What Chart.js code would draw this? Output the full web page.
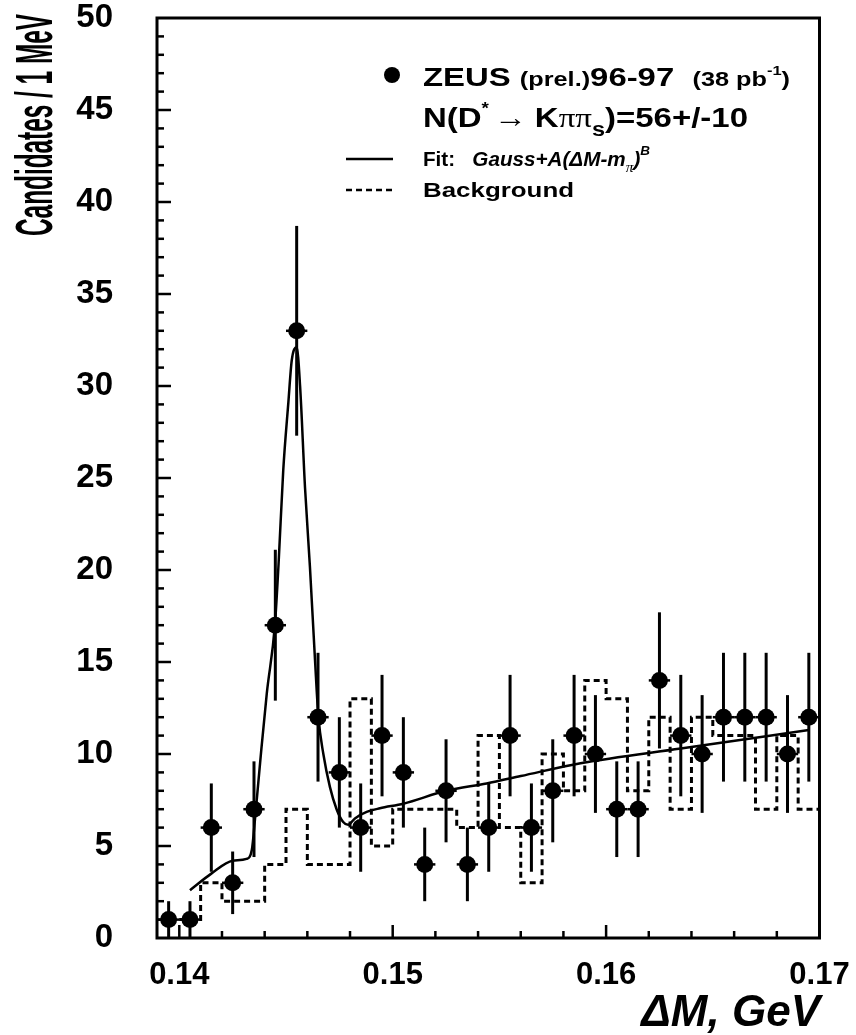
<!DOCTYPE html>
<html lang="en">
<head>
<meta charset="UTF-8">
<title>D* signal, ZEUS 96-97</title>
<style>
  html, body { margin: 0; padding: 0; background: #fff; }
  #wrap { width: 856px; height: 1035px; }
</style>
</head>
<body>
<div id="wrap"><canvas id="chart" width="856" height="1035"></canvas></div>

<script src="https://cdn.jsdelivr.net/npm/chart.js"></script>
<script>
    // data points: bin centres (GeV), candidates per 1 MeV, error bars
    const binCenters = [0.1395, 0.1405, 0.1415, 0.1425, 0.1435, 0.1445, 0.1455, 0.1465, 0.1475, 0.1485,
                        0.1495, 0.1505, 0.1515, 0.1525, 0.1535, 0.1545, 0.1555, 0.1565, 0.1575, 0.1585,
                        0.1595, 0.1605, 0.1615, 0.1625, 0.1635, 0.1645, 0.1655, 0.1665, 0.1675, 0.1685, 0.1695];
    const counts = [1, 1, 6, 3, 7, 17, 33, 12, 9, 6,
                    11, 9, 4, 8, 4, 6, 11, 6, 8, 11,
                    10, 7, 7, 14, 11, 10, 12, 12, 12, 10, 12];
    const errors = [1, 1, 2.4, 1.7, 2.6, 4.1, 5.7, 3.5, 3, 2.4,
                    3.3, 3, 2, 2.8, 2, 2.4, 3.3, 2.4, 2.8, 3.3,
                    3.2, 2.6, 2.6, 3.7, 3.3, 3.2, 3.5, 3.5, 3.5, 3.2, 3.5];
    const halfBin = 0.0005;

    // background (dashed histogram): bin left edges and contents
    const bkgEdges  = [0.140, 0.141, 0.142, 0.144, 0.145, 0.146, 0.148, 0.149, 0.150, 0.153,
                       0.154, 0.155, 0.156, 0.157, 0.158, 0.159, 0.160, 0.161, 0.162, 0.163,
                       0.164, 0.165, 0.167, 0.168, 0.169, 0.170];
    const bkgValues = [1, 3, 2, 4, 7, 4, 13, 5, 7, 6,
                       11, 6, 3, 10, 8, 14, 13, 8, 12, 7,
                       12, 11, 7, 11, 7, 7];

    // fit curve
    const fitX = [0.14050, 0.14150, 0.14250, 0.14315, 0.14340, 0.14355, 0.14380, 0.14410, 0.14448, 0.14465,
                  0.14487, 0.14511, 0.14527, 0.14550, 0.14566, 0.14589, 0.14612, 0.14636, 0.14652, 0.14675,
                  0.14706, 0.14737, 0.14768, 0.14791, 0.14823, 0.14878, 0.14940, 0.15050, 0.15250, 0.15440,
                  0.15600, 0.15880, 0.16350, 0.16950];
    const fitY = [2.6, 3.5, 4.2, 4.3, 4.8, 6.5, 9.7, 13.3, 17.0, 20.3,
                  25.4, 29.1, 31.4, 32.1, 30.0, 24.5, 20.2, 15.1, 12.0, 10.0,
                  8.2, 7.0, 6.3, 6.15, 6.5, 6.85, 7.05, 7.3, 8.0, 8.4,
                  8.8, 9.5, 10.3, 11.3];

    // axes
    const xMin = 0.138955, xMax = 0.170;
    const xLabels = [0.14, 0.15, 0.16, 0.17];
    const yLabels = [0, 5, 10, 15, 20, 25, 30, 35, 40, 45, 50];

    const FONT = "'Liberation Sans', Arial, Helvetica, sans-serif";
    const SYM = "'Liberation Serif', 'DejaVu Serif', serif";

    // draw a run of text pieces, squeezed/stretched to end at xEnd
    function textRun(ctx, x, y, xEnd, parts) {
        let w = 0;
        for (const p of parts) {
            ctx.font = p.f;
            w += ctx.measureText(p.t).width + (p.gap || 0);
        }
        ctx.save();
        ctx.translate(x, y);
        ctx.scale((xEnd - x) / w, 1);
        let cx = 0;
        for (const p of parts) {
            ctx.font = p.f;
            ctx.fillText(p.t, cx, p.dy || 0);
            cx += ctx.measureText(p.t).width + (p.gap || 0);
        }
        ctx.restore();
    }

    // frame, inward ticks, error bars, titles and legend
    const decor = {
        id: 'decor',
        afterDatasetsDraw(chart) {
            const ctx = chart.ctx, xs = chart.scales.x, ys = chart.scales.y;
            ctx.save();
            ctx.strokeStyle = '#000';
            for (let i = 0; i < binCenters.length; i++) {
                const px = xs.getPixelForValue(binCenters[i]);
                const py = ys.getPixelForValue(counts[i]);
                ctx.lineWidth = 3;
                ctx.beginPath();
                ctx.moveTo(px, ys.getPixelForValue(Math.max(0, counts[i] - errors[i])));
                ctx.lineTo(px, ys.getPixelForValue(counts[i] + errors[i]));
                ctx.stroke();
                ctx.lineWidth = 2.5;
                ctx.beginPath();
                ctx.moveTo(xs.getPixelForValue(binCenters[i] - halfBin), py);
                ctx.lineTo(xs.getPixelForValue(binCenters[i] + halfBin), py);
                ctx.stroke();
            }
            ctx.restore();
        },
        afterDraw(chart) {
            const ctx = chart.ctx, a = chart.chartArea;
            const xs = chart.scales.x, ys = chart.scales.y;
            ctx.save();
            ctx.strokeStyle = '#000';
            ctx.fillStyle = '#000';

            // frame
            ctx.lineWidth = 3;
            ctx.strokeRect(a.left, a.top, a.right - a.left, a.bottom - a.top);

            // y ticks every 1, long every 5
            ctx.lineWidth = 2.5;
            for (let v = 1; v < 50; v++) {
                const py = ys.getPixelForValue(v);
                const len = v % 5 === 0 ? 14 : 7;
                ctx.beginPath();
                ctx.moveTo(a.left, py);
                ctx.lineTo(a.left + len, py);
                ctx.stroke();
            }
            // x ticks every 2 MeV, long every 10
            for (let k = 70; k <= 84; k++) {
                const v = k * 0.002;
                if (v < xMin || v >= xMax - 1e-6) continue;
                const px = xs.getPixelForValue(v);
                const len = k % 5 === 0 ? 13 : 7;
                ctx.beginPath();
                ctx.moveTo(px, a.bottom);
                ctx.lineTo(px, a.bottom - len);
                ctx.stroke();
            }

            // y title (narrow bold)
            ctx.save();
            ctx.translate(52, 125);
            ctx.rotate(-Math.PI / 2);
            ctx.font = 'bold 52px ' + FONT;
            const t = 'Candidates / 1 MeV';
            const w = ctx.measureText(t).width;
            ctx.scale(222 / w, 1);
            ctx.textAlign = 'center';
            ctx.fillText(t, 0, 0);
            ctx.restore();

            // x title
            ctx.font = 'italic bold 44px ' + FONT;
            ctx.textAlign = 'right';
            ctx.fillText('\u0394M, GeV', 820, 1026);

            // legend
            ctx.textAlign = 'left';
            ctx.beginPath();
            ctx.arc(392, 75, 8, 0, Math.PI * 2);
            ctx.fill();
            textRun(ctx, 423, 86, 790, [
                { t: 'ZEUS ', f: 'bold 26px ' + FONT },
                { t: '(prel.)', f: 'bold 20px ' + FONT },
                { t: '96-97  ', f: 'bold 26px ' + FONT },
                { t: '(38 pb', f: 'bold 20px ' + FONT },
                { t: '-1', f: 'bold 13px ' + FONT, dy: -11 },
                { t: ')', f: 'bold 20px ' + FONT }
            ]);
            textRun(ctx, 423, 127, 748, [
                { t: 'N(D', f: 'bold 28px ' + FONT },
                { t: '*', f: 'bold 16px ' + FONT, dy: -13, gap: 4 },
                { t: '\u2192 ', f: '28px ' + SYM },
                { t: 'K', f: 'bold 28px ' + FONT },
                { t: '\u03c0\u03c0', f: '28px ' + SYM },
                { t: 's', f: 'bold 20px ' + FONT, dy: 9 },
                { t: ')=56+/-10', f: 'bold 28px ' + FONT }
            ]);
            textRun(ctx, 423, 166, 650, [
                { t: 'Fit:   ', f: 'bold 20px ' + FONT },
                { t: 'Gauss+A(\u0394M-m', f: 'italic bold 20px ' + FONT },
                { t: '\u03c0', f: 'italic 15px ' + SYM, dy: 6 },
                { t: ')', f: 'italic bold 20px ' + FONT },
                { t: 'B', f: 'italic bold 13px ' + FONT, dy: -11 }
            ]);
            textRun(ctx, 423, 197, 574, [{ t: 'Background', f: 'bold 21px ' + FONT }]);

            ctx.lineWidth = 2.5;
            ctx.beginPath();
            ctx.moveTo(346, 159);
            ctx.lineTo(393, 159);
            ctx.stroke();
            ctx.setLineDash([6, 4]);
            ctx.beginPath();
            ctx.moveTo(346, 190);
            ctx.lineTo(393, 190);
            ctx.stroke();
            ctx.restore();
        }
    };

    const ctx = document.getElementById('chart').getContext('2d');
    const chart = new Chart(ctx, {
        type: 'scatter',
        data: {
            datasets: [
                {
                    label: 'Background',
                    type: 'line',
                    data: bkgEdges.map((x, i) => ({ x: x, y: bkgValues[i] })),
                    stepped: 'before',
                    borderColor: '#000',
                    borderWidth: 3,
                    borderDash: [6, 4],
                    pointRadius: 0,
                    fill: false
                },
                {
                    label: 'Fit',
                    type: 'line',
                    data: fitX.map((x, i) => ({ x: x, y: fitY[i] })),
                    cubicInterpolationMode: 'monotone',
                    borderColor: '#000',
                    borderWidth: 2.5,
                    pointRadius: 0,
                    fill: false
                },
                {
                    label: 'ZEUS (prel.) 96-97',
                    data: binCenters.map((x, i) => ({ x: x, y: counts[i] })),
                    pointRadius: 8.5,
                    backgroundColor: '#000',
                    borderWidth: 0
                }
            ]
        },
        options: {
            responsive: false,
            animation: false,
            devicePixelRatio: 1,
            layout: { padding: { top: 18, right: 36.5, left: 0, bottom: 0 } },
            plugins: { legend: { display: false }, tooltip: { enabled: false } },
            scales: {
                x: {
                    type: 'linear',
                    min: xMin,
                    max: xMax,
                    grid: { display: false },
                    border: { display: false },
                    afterBuildTicks: s => { s.ticks = xLabels.map(v => ({ value: v })); },
                    afterFit: s => { s.height = 97; s.paddingLeft = 0; s.paddingRight = 0; },
                    ticks: {
                        color: '#000',
                        font: { family: FONT, weight: 'bold', size: 31 },
                        padding: 11,
                        maxRotation: 0,
                        autoSkip: false,
                        callback: v => Number(v).toFixed(2)
                    }
                },
                y: {
                    min: 0,
                    max: 50,
                    grid: { display: false },
                    border: { display: false },
                    afterBuildTicks: s => { s.ticks = yLabels.map(v => ({ value: v })); },
                    afterFit: s => { s.width = 157; s.paddingTop = 0; s.paddingBottom = 0; },
                    ticks: {
                        color: '#000',
                        font: { family: FONT, weight: 'bold', size: 33 },
                        padding: 36,
                        autoSkip: false
                    }
                }
            }
        },
        plugins: [decor]
    });
</script>
</body>
</html>
